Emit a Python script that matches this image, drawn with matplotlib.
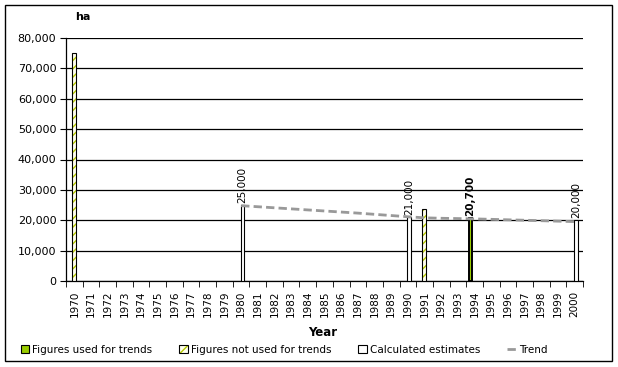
import matplotlib.pyplot as plt
from matplotlib.patches import Patch, Rectangle
from matplotlib.lines import Line2D
from matplotlib.legend_handler import HandlerTuple

years = list(range(1970, 2001))

used_years = [1994]
used_vals = [20700]
not_used_years = [1970, 1991]
not_used_vals = [75000, 23600]
calc_years = [1980, 1990, 2000]
calc_vals = [25000, 21000, 20000]

trend_years = list(range(1980, 2001))
trend_vals = [24800, 24450, 24100, 23750, 23400, 23050, 22700, 22350, 21950, 21550, 21150,
              20800, 20650, 20550, 20450, 20300, 20150, 20000, 19850, 19700, 19550]

plt.rcParams['font.family'] = ['DejaVu Sans']

fig = plt.figure(figsize=(6.18, 3.67), dpi=100)
ax = fig.add_axes([66 / 618, 1 - 281 / 367, (583 - 66) / 618, (281 - 38) / 367])

w = 0.22
ax.bar([y - 1970 - 0.25 for y in used_years], used_vals, width=w,
       color='#99CC00', edgecolor='black', linewidth=1.4, zorder=3)
# hatched bars: hatch drawn in olive, outline in black
ax.bar([y - 1970 - 0.02 for y in not_used_years], not_used_vals, width=w,
       color='#FFFFF0', edgecolor='#B5C800', linewidth=0, hatch='////', zorder=3)
ax.bar([y - 1970 - 0.02 for y in not_used_years], not_used_vals, width=w,
       fill=False, edgecolor='black', linewidth=0.8, zorder=3)
ax.bar([y - 1970 + 0.08 for y in calc_years], calc_vals, width=w,
       color='white', edgecolor='black', linewidth=0.8, zorder=3)

ax.plot([y - 1970 for y in trend_years], trend_vals, color='#999999',
        linestyle=(0, (3, 1.5)), linewidth=2, zorder=4)

# data labels
for y, v in zip(calc_years, calc_vals):
    ax.text(y - 1970 + 0.08, v + 700, f'{v:,}', rotation=90, ha='center', va='bottom', fontsize=7.5)
for y, v in zip(used_years, used_vals):
    ax.text(y - 1970 - 0.25, v + 700, f'{v:,}', rotation=90, ha='center', va='bottom',
            fontsize=7.5, fontweight='bold')

ax.set_xlim(-0.5, len(years) - 0.5)
ax.set_ylim(0, 80000)
ax.set_yticks(range(0, 80001, 10000))
ax.set_yticklabels([f'{v:,}' for v in range(0, 80001, 10000)], fontsize=8)
ax.yaxis.grid(True, color='black', linewidth=0.9)
ax.set_axisbelow(True)

ax.set_xticks(range(len(years)))
ax.set_xticklabels([str(y) for y in years], rotation=90, fontsize=7.5)
ax.set_xticks([i - 0.5 for i in range(len(years) + 1)], minor=True)
ax.tick_params(axis='x', which='major', length=0, pad=7)
ax.tick_params(axis='x', which='minor', length=4, color='black')
ax.tick_params(axis='y', length=4, color='black', pad=3)

for s in ['top', 'right']:
    ax.spines[s].set_visible(False)
for s in ['left', 'bottom']:
    ax.spines[s].set_color('black')
    ax.spines[s].set_linewidth(0.9)

fig.text(75 / 618, 1 - 17 / 367, 'ha', fontsize=8, fontweight='bold', ha='left', va='center')
fig.text(323 / 618, 1 - 332 / 367, 'Year', fontsize=8.5, fontweight='bold', ha='center', va='center')

hatch_handle = (Patch(facecolor='#FFFFF0', edgecolor='#B5C800', hatch='////', linewidth=0),
                Patch(fill=False, edgecolor='black', linewidth=0.8))
handles = [
    Patch(facecolor='#99CC00', edgecolor='black', linewidth=0.8),
    hatch_handle,
    Patch(facecolor='white', edgecolor='black', linewidth=0.8),
    Line2D([0], [0], color='#999999', linestyle=(0, (3, 1.5)), linewidth=2),
]
labels = ['Figures used for trends', 'Figures not used for trends', 'Calculated estimates', 'Trend']
fig.legend(handles, labels, loc='center', bbox_to_anchor=(284 / 618, 1 - 350 / 367), ncol=4,
           frameon=False, fontsize=7.5, handlelength=0.8, handleheight=0.8, handletextpad=0.3,
           columnspacing=2.6, handler_map={tuple: HandlerTuple(ndivide=1, pad=0)})

fig.patches.append(Rectangle((5 / 618, 1 - 361 / 367), 607 / 618, 356 / 367,
                             transform=fig.transFigure, fill=False, edgecolor='black', linewidth=1))

fig.savefig('out.png', dpi=100)
